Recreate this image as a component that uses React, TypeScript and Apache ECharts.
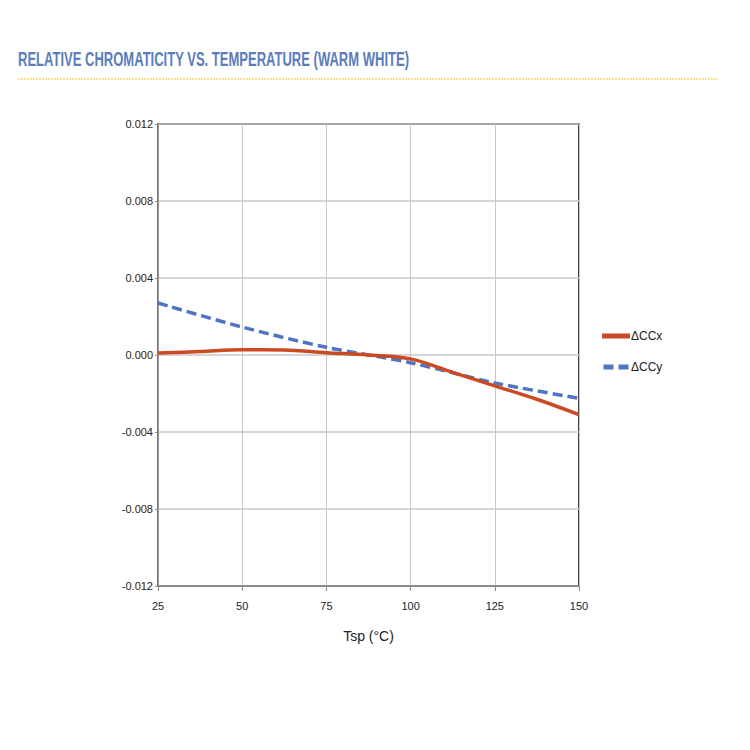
import React, { useEffect, useRef } from "react";
import * as echarts from "echarts";

const temps = [25, 37.5, 50, 62.5, 75, 87.5, 100, 112.5, 125, 137.5, 150];
const dCCx = [0.0001, 0.00018, 0.00027, 0.00026, 0.00012, 0.0, -0.0002, -0.0009, -0.0016, -0.0023, -0.0031];
const tempsY = [25, 50, 75, 100, 125, 150];
const dCCy = [0.0027, 0.00145, 0.0004, -0.0004, -0.00145, -0.00225];
const yTicks = [-0.012, -0.008, -0.004, 0, 0.004, 0.008, 0.012];

const FONT = "'Liberation Sans', Arial, sans-serif";

export default function App() {
  const ref = useRef<HTMLDivElement>(null);
  useEffect(() => {
    const chart = echarts.init(ref.current!, null, { renderer: "svg" });
    chart.setOption({
      animation: false,
      backgroundColor: "#ffffff",
      graphic: [
        {
          type: "text",
          x: 18,
          y: 48,
          scaleX: 0.62,
          style: {
            text: "RELATIVE CHROMATICITY VS. TEMPERATURE (WARM WHITE)",
            font: "bold 21px " + FONT,
            fill: "#5b7dbd",
          },
        },
        {
          type: "line",
          shape: { x1: 18, y1: 79, x2: 718, y2: 79 },
          style: { stroke: "#f2c21b", lineWidth: 1, lineDash: [2, 1] },
        },
      ],
      legend: {
        orient: "vertical",
        left: 597,
        top: 325,
        itemWidth: 28,
        itemHeight: 5,
        itemGap: 19,
        textStyle: { fontFamily: FONT, fontSize: 12, color: "#222", padding: [0, 0, 0, -4] },
        data: [
          { name: "ΔCCx", icon: "path://M0,0H28V5H0Z" },
          { name: "ΔCCy", icon: "path://M0,0H10V5H0Z M15,0H25V5H15Z" },
        ],
      },
      grid: {
        left: 158,
        right: 171,
        top: 124,
        bottom: 164,
        show: true,
        borderColor: "#000",
        borderWidth: 1.5,
      },
      xAxis: {
        type: "value",
        min: 25,
        max: 150,
        interval: 25,
        name: "Tsp (°C)",
        nameLocation: "middle",
        nameGap: 43,
        nameTextStyle: { fontFamily: FONT, fontSize: 14, color: "#222" },
        axisLine: { onZero: false, lineStyle: { color: "#8a8a8a", width: 2 } },
        axisTick: { show: true, length: 5, lineStyle: { color: "#8a8a8a" } },
        axisLabel: { fontFamily: FONT, fontSize: 11, color: "#222", margin: 14 },
        splitLine: { show: true, lineStyle: { color: "#c8c8c8", width: 1 } },
      },
      yAxis: {
        type: "value",
        min: -0.012,
        max: 0.012,
        interval: 0.004,
        axisLine: { show: true, lineStyle: { color: "#8a8a8a", width: 1.5 } },
        axisTick: { show: true, length: 3, lineStyle: { color: "#8a8a8a" } },
        axisLabel: {
          fontFamily: FONT,
          fontSize: 11,
          color: "#222",
          margin: 5,
          formatter: (v: number) => {
            const t = yTicks.find((k) => Math.abs(k - v) < 1e-9);
            return (t !== undefined ? t : v).toFixed(3);
          },
        },
        splitLine: { show: true, lineStyle: { color: "#c8c8c8", width: 1.5 } },
      },
      series: [
        {
          name: "ΔCCx",
          type: "line",
          smooth: 0.35,
          symbol: "none",
          data: temps.map((t, i) => [t, dCCx[i]]),
          lineStyle: { color: "#cc4a23", width: 3.5 },
          itemStyle: { color: "#cc4a23" },
          z: 3,
        },
        {
          name: "ΔCCy",
          type: "line",
          smooth: 0.3,
          symbol: "none",
          data: tempsY.map((t, i) => [t, dCCy[i]]),
          lineStyle: { color: "#4f75c0", width: 3.5, type: [10, 5] },
          itemStyle: { color: "#4f75c0" },
          z: 2,
        },
      ],
    });
    return () => chart.dispose();
  }, []);
  return (
    <div
      ref={ref}
      style={{ position: "absolute", left: 0, top: 0, width: 750, height: 750 }}
    />
  );
}
